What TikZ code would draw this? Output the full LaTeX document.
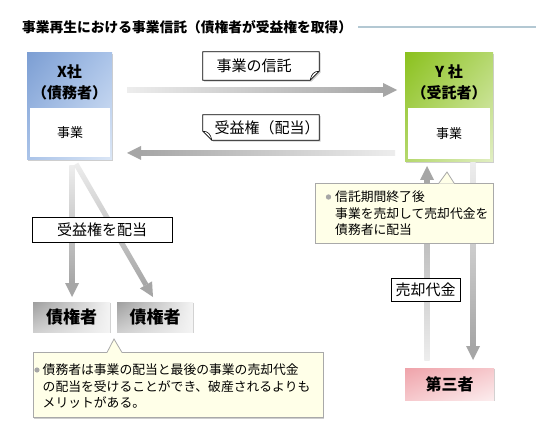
\documentclass[tikz,border=0pt]{standalone}
\usepackage{fontspec}
\newfontfamily\jp{Noto Sans CJK JP}
\usetikzlibrary{calc,shadows,shadings}
\definecolor{arrdark}{HTML}{A6A6A6}
\definecolor{arrlight}{HTML}{EDEDED}
\definecolor{xA}{HTML}{7C9ED3}
\definecolor{xB}{HTML}{ABC4E9}
\definecolor{xC}{HTML}{DCE7F6}
\definecolor{yA}{HTML}{8BC11E}
\definecolor{yB}{HTML}{B5D86E}
\definecolor{yC}{HTML}{E2EFC4}
\definecolor{gA}{HTML}{9E9E9E}
\definecolor{gB}{HTML}{CFCFCF}
\definecolor{gC}{HTML}{F4F4F4}
\definecolor{pA}{HTML}{EFA3AA}
\definecolor{pB}{HTML}{F6C8CC}
\definecolor{pC}{HTML}{FCEDEE}
\definecolor{cfill}{HTML}{FFFFE8}
\definecolor{cborder}{HTML}{A9A9A9}
\definecolor{tline}{HTML}{B3C8D3}

\newcommand\gradarrow[4]{%
  \coordinate (ga-b) at ($(#3)!14pt!(#2)$);
  \shade[#1] ($(#2)!2.6pt!90:(ga-b)$) -- ($(#2)!2.6pt!-90:(ga-b)$) -- ($(ga-b)!2.6pt!90:(#2)$) -- ($(ga-b)!2.6pt!-90:(#2)$) -- cycle;
  \fill[#4] ($(ga-b)!7pt!90:(#3)$) -- (#3) -- ($(ga-b)!7pt!-90:(#3)$) -- cycle;
}

\begin{document}
\begin{tikzpicture}[x=1pt,y=-1pt,
  shad/.style={drop shadow={shadow xshift=1.4pt,shadow yshift=-1.4pt,opacity=.35,fill=black!55}},
  box/.style={shad,inner sep=0pt},
  inner/.style={fill=white,inner sep=0pt,font=\jp\fontsize{13}{15}\selectfont},
  bold/.style={font=\jp\bfseries\fontsize{15}{21}\selectfont,align=center,inner sep=0pt},
  lab/.style={draw=black,line width=.8pt,fill=white,inner sep=0pt,shad,font=\jp\fontsize{15}{18}\selectfont},
  labtext/.style={font=\jp\fontsize{15}{18}\selectfont,inner sep=0pt},
  callout/.style={draw=cborder,line width=.8pt,fill=cfill,shad,inner sep=0pt},
  ctext/.style={font=\jp\fontsize{12.8}{16.5}\selectfont,align=left,inner sep=0pt,anchor=west},
  bulletdot/.style={fill=arrdark},
  pointer/.style={draw=cborder,line width=.8pt}]
\useasboundingbox (0,0) rectangle (551,446);
\fill[white] (0,0) rectangle (551,446);

% title
\node[anchor=west,inner sep=0pt,font=\jp\bfseries\fontsize{13.75}{16}\selectfont] (title) at (22,27) {事業再生における事業信託（債権者が受益権を取得）};
\coordinate (tend) at (536,27);
\draw[tline,line width=1.4pt] ($(title.east)+(6,0)$) -- (tend);

% X company
\node[box,minimum width=85,minimum height=107,upper left=xA,upper right=xB,lower left=xB,lower right=xC] (xbox) at (69.5,106.5) {};
\node[inner,minimum width=80,minimum height=49] (xbiz) at (70,132.5) {事業};
\node[bold] (xname) at (69.5,82.5) {X社\\（債務者）};

% Y company
\node[box,minimum width=88,minimum height=109,upper left=yA,upper right=yB,lower left=yB,lower right=yC] (ybox) at (449,107.5) {};
\node[inner,minimum width=82,minimum height=51] (ybiz) at (449,133.5) {事業};
\node[bold] (yname) at (449,82.5) {Y 社\\（受託者）};

% horizontal arrows
\coordinate (a1s) at (127,90); \coordinate (a1e) at (397,90);
\gradarrow{left color=arrlight,right color=arrdark}{a1s}{a1e}{arrdark}
\coordinate (a2s) at (395,153); \coordinate (a2e) at (127,153);
\gradarrow{left color=arrdark,right color=arrlight}{a2s}{a2e}{arrdark}

% label: 事業の信託 (dog-ear bottom right)
\node[minimum width=116,minimum height=28,inner sep=0pt] (l1) at (261,66) {};
\path[shad,fill=white,draw=black,line width=.8pt] (l1.north west) -- (l1.north east) -- ($(l1.south east)+(0,-9)$) -- ($(l1.south east)+(-9,0)$) -- (l1.south west) -- cycle;
\draw[line width=.6pt] ($(l1.south east)+(0,-9)$) .. controls ($(l1.south east)+(-5,-9)$) and ($(l1.south east)+(-8,-6)$) .. ($(l1.south east)+(-9,0)$);
\node[labtext] (l1t) at ($(l1.center)+(-7,0)$) {事業の信託};

% label: 受益権（配当） (dog-ear bottom left)
\node[minimum width=116,minimum height=25,inner sep=0pt] (l2) at (261,127.5) {};
\path[shad,fill=white,draw=black,line width=.8pt] (l2.north west) -- (l2.north east) -- (l2.south east) -- ($(l2.south west)+(9,0)$) -- ($(l2.south west)+(0,-9)$) -- cycle;
\draw[line width=.6pt] ($(l2.south west)+(0,-9)$) .. controls ($(l2.south west)+(5,-9)$) and ($(l2.south west)+(8,-6)$) .. ($(l2.south west)+(9,0)$);
\node[labtext] (l2t) at ($(l2.center)+(6,0)$) {受益権（配当）};

% arrows down to creditors
\coordinate (d1s) at (72,166); \coordinate (d1e) at (72,297);
\gradarrow{top color=arrlight,bottom color=arrdark}{d1s}{d1e}{arrdark}
\coordinate (d2s) at (76,164); \coordinate (d2e) at (153,297);
\gradarrow{top color=arrlight,bottom color=arrdark}{d2s}{d2e}{arrdark}

\node[lab,minimum width=140,minimum height=25] (l3) at (102,229.5) {受益権を配当};

% creditors
\node[box,minimum width=77,minimum height=30,upper left=gA,upper right=gC,lower left=gB,lower right=gC,font=\jp\bfseries\fontsize{17}{19}\selectfont] (cr1) at (71.5,317) {債権者};
\node[box,minimum width=76,minimum height=30,upper left=gA,upper right=gC,lower left=gB,lower right=gC,font=\jp\bfseries\fontsize{17}{19}\selectfont] (cr2) at (155,317) {債権者};

% right vertical arrows
\coordinate (u1s) at (427,360); \coordinate (u1e) at (427,166);
\gradarrow{top color=arrdark,bottom color=arrlight}{u1s}{u1e}{arrdark}
\coordinate (v1s) at (473,163); \coordinate (v1e) at (473,360);
\gradarrow{top color=arrlight,bottom color=arrdark}{v1s}{v1e}{arrdark}

% right callout
\node[callout,minimum width=178,minimum height=60] (note1) at (404,213) {};
\fill[cfill] (439,183.6) -- (447,172) -- (454,183.6) -- cycle;
\draw[pointer] (439,183) -- (447,172) -- (454,183);
\fill[bulletdot] (328.5,197) circle[radius=2.7pt];
\node[ctext] (note1t) at (335,213.5) {信託期間終了後\\事業を売却して売却代金を\\債務者に配当};

% bottom callout
\node[callout,minimum width=290,minimum height=65] (note2) at (178,385) {};
\fill[cfill] (107,352.9) -- (114,339) -- (122,352.9) -- cycle;
\draw[pointer] (107,352.5) -- (114,339) -- (122,352.5);
\fill[bulletdot] (37,370) circle[radius=2.6pt];
\node[ctext] (note2t) at (42.5,386.5) {債務者は事業の配当と最後の事業の売却代金\\の配当を受けることができ、破産されるよりも\\メリットがある。};

% sale proceeds label
\node[lab,minimum width=69,minimum height=23] (l4) at (425.5,289.5) {売却代金};

% third party
\node[box,minimum width=89,minimum height=32,upper left=pA,upper right=pB,lower left=pB,lower right=pC,font=\jp\bfseries\fontsize{16}{18}\selectfont] (third) at (449.5,384) {第三者};
\end{tikzpicture}
\end{document}
